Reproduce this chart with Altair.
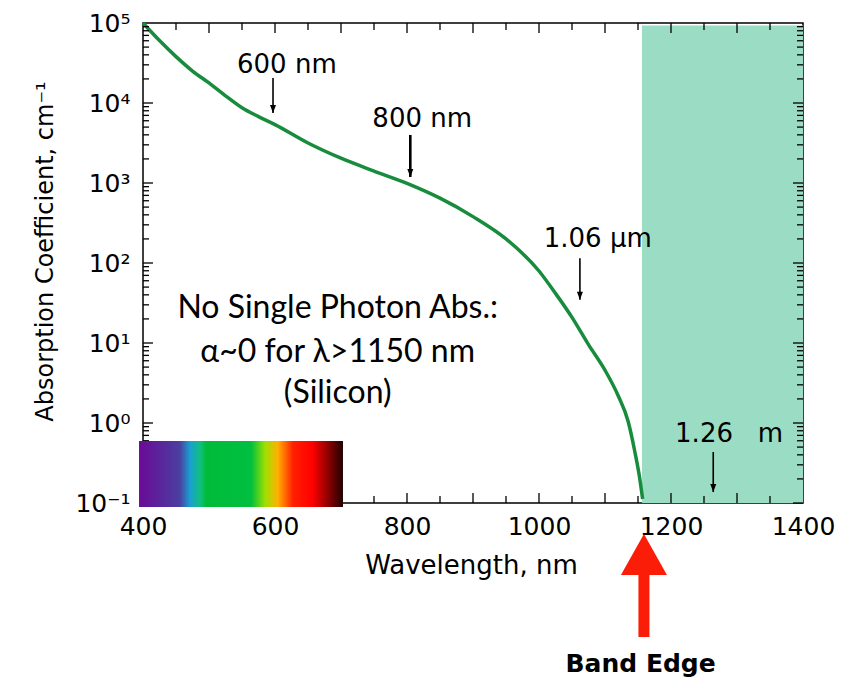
import math
import altair as alt
import pandas as pd

# ---------------- data ----------------
wavelength = [400, 425, 450, 475, 500, 525, 550, 575, 600, 650, 700, 750, 800,
              850, 900, 950, 1000, 1025, 1050, 1075, 1100, 1120, 1135, 1145,
              1152, 1157]
alpha = [1.0e5, 6.03e4, 3.80e4, 2.51e4, 1.78e4, 1.23e4, 8.71e3, 6.76e3, 5.37e3,
         3.16e3, 2.04e3, 1.41e3, 989, 646, 380, 200, 79.4, 41.7, 20.9, 9.55,
         4.57, 2.19, 1.05, 0.447, 0.219, 0.112]

x_label_values = [400, 600, 800, 1000, 1200, 1400]
y_label_values = [0.1, 1, 10, 100, 1000, 10000, 100000]
y_label_text = ["10⁻¹", "10⁰", "10¹", "10²", "10³", "10⁴", "10⁵"]

note_text = ["600 nm", "800 nm", "1.06 µm", "1.26\u00a0\u00a0\u00a0m"]
note_x = [618, 823, 1089, 1288]
note_y = [2.37e4, 5.01e3, 158, 0.579]
arrow_x = [597, 805, 1062, 1264]
arrow_from = [2.05e4, 3.98e3, 115, 0.434]
arrow_to = [7.5e3, 1.19e3, 34.7, 0.137]

body_lines = ["No Single Photon Abs.:", "α~0 for λ>1150 nm", "(Silicon)"]
body_x = [695, 695, 695]
body_y = [20.5, 5.79, 1.78]

band_label = ["Band Edge"]
band_arrow_x = [1159]
band_arrow_y = [0.00933]
band_text_x = [1154]
band_text_y = [7.72e-4]

no_abs_x = [1156]
no_abs_x2 = [1400]
no_abs_y = [0.1]
no_abs_y2 = [9.33e4]

spectrum_x = [394]
spectrum_x2 = [703]
spectrum_y = [0.0891]
spectrum_y2 = [0.596]
spectrum_offsets = [0.0, 0.2, 0.25, 0.3, 0.33, 0.55, 0.62, 0.68, 0.755, 0.85, 0.93, 1.0]
spectrum_colors = ["#6a0a96", "#4b3fa0", "#1a9fd0", "#10c080", "#00bb3a", "#00c040",
                   "#a0e000", "#ffb000", "#ff2000", "#ff0000", "#8a0000", "#200000"]

x_tick_values = list(range(450, 1400, 50))
y_tick_values = [m * 10.0 ** k for k in range(-1, 5) for m in range(1, 10)]

# ---------------- chart ----------------
W, H = 660, 480
xs = alt.Scale(domain=[400, 1400], nice=False, zero=False)
ys = alt.Scale(type="log", domain=[0.1, 1e5], nice=False)
FONT = "DejaVu Sans"

label_expr = "[" + ",".join(f"'{t}'" for t in y_label_text) + "][round(log(datum.value)/LN10)+1]"

xaxis = alt.Axis(values=x_label_values, format="d", labelFont=FONT, labelFontSize=25,
                 labelColor="black", labelPadding=11, ticks=False, tickSize=0,
                 domain=False, grid=False, labelFlush=False, labelOverlap=False,
                 title="Wavelength, nm", titleFont=FONT, titleFontSize=26,
                 titleFontWeight="normal", titleColor="black", titleX=328, titleY=70,
                 titleBaseline="alphabetic", titleAlign="center")
yaxis = alt.Axis(values=y_label_values, labelExpr=label_expr, labelFont=FONT,
                 labelFontSize=25, labelColor="black", labelPadding=13, ticks=False,
                 tickSize=0, domain=False, grid=False, labelFlush=False,
                 labelOverlap=False, labelBaseline="middle",
                 title="Absorption Coefficient, cm⁻¹", titleFont=FONT, titleFontSize=24,
                 titleFontWeight="normal", titleColor="black", titleX=-91, titleY=228,
                 titleAngle=-90, titleBaseline="alphabetic", titleAlign="center")


def X(field):
    return alt.X(field, type="quantitative", scale=xs, axis=xaxis)


def Y(field):
    return alt.Y(field, type="quantitative", scale=ys, axis=yaxis)


curve_df = pd.DataFrame({"wavelength": wavelength, "alpha": alpha})

teal = alt.Chart(pd.DataFrame({"x": no_abs_x, "x2": no_abs_x2, "y": no_abs_y, "y2": no_abs_y2})).mark_rect(
    color="#9bdcc5").encode(x=X("x"), x2="x2:Q", y=Y("y"), y2="y2:Q")

curve = alt.Chart(curve_df).mark_line(color="#178c3c", strokeWidth=3.5, interpolate="monotone").encode(
    x=X("wavelength"), y=Y("alpha"))


def xtick_layer(values, top, length):
    df = pd.DataFrame({"x": values})
    y0 = 0 if top else H
    y1 = length if top else H - length
    return alt.Chart(df).mark_rule(color="black", strokeWidth=1.3).encode(
        x=X("x"), y=alt.value(y0), y2=alt.value(y1))


def ytick_layer(values, right, length):
    df = pd.DataFrame({"y": values})
    x0 = W if right else 0
    x1 = W - length if right else length
    return alt.Chart(df).mark_rule(color="black", strokeWidth=1.3).encode(
        y=Y("y"), x=alt.value(x0), x2=alt.value(x1))


x_major = [v for v in x_tick_values if v % 100 == 0]
x_minor = [v for v in x_tick_values if v % 100 != 0]
y_major = [v for v in y_tick_values if abs(v / 10 ** round(math.log10(v)) - 1) < 1e-9 and v < 1e5]
y_minor = [v for v in y_tick_values if v not in y_major]

ticks = [xtick_layer(x_major, False, 10), xtick_layer(x_minor, False, 7),
         xtick_layer(x_major, True, 10), xtick_layer(x_minor, True, 7),
         ytick_layer(y_major, False, 10), ytick_layer(y_minor, False, 6),
         ytick_layer(y_major, True, 10), ytick_layer(y_minor, True, 6)]

spectrum = alt.Chart(pd.DataFrame({"x": spectrum_x, "x2": spectrum_x2, "y": spectrum_y, "y2": spectrum_y2})).mark_rect(
    color=alt.LinearGradient(gradient="linear",
                             stops=[alt.GradientStop(offset=o, color=c) for o, c in zip(spectrum_offsets, spectrum_colors)],
                             x1=0, x2=1, y1=0, y2=0)).encode(
    x=X("x"), x2="x2:Q", y=Y("y"), y2="y2:Q")

arrow_df = pd.DataFrame({"label": note_text, "x": arrow_x, "y": arrow_from, "y2": arrow_to, "tip": arrow_to})
arrow_lines = alt.Chart(arrow_df).mark_rule(color="black").encode(
    x=X("x"), y=Y("y"), y2="y2:Q",
    strokeWidth=alt.condition("datum.label == '800 nm'", alt.value(2.6), alt.value(1.6)))
arrow_heads = alt.Chart(arrow_df).mark_point(
    shape="M-0.375,-1 L0.375,-1 L0,0 Z", size=256, filled=True, color="black",
    opacity=1, strokeWidth=0).encode(x=X("x"), y=Y("tip"))

notes = alt.Chart(pd.DataFrame({"t": note_text, "x": note_x, "y": note_y})).mark_text(
    font=FONT, fontSize=26, baseline="alphabetic", align="center", color="black").encode(
    x=X("x"), y=Y("y"), text="t:N")

body = alt.Chart(pd.DataFrame({"t": body_lines, "x": body_x, "y": body_y})).mark_text(
    font="Lato", fontSize=32, baseline="alphabetic", align="center", color="black").encode(
    x=X("x"), y=Y("y"), text="t:N")

band_arrow = alt.Chart(pd.DataFrame({"x": band_arrow_x, "y": band_arrow_y})).mark_point(
    shape="M0,-1 L0.447,-0.204 L0.107,-0.204 L0.107,1 L-0.107,1 L-0.107,-0.204 L-0.447,-0.204 Z",
    size=10609, filled=True, color="#fb1d08", opacity=1, strokeWidth=0).encode(
    x=X("x"), y=Y("y"))

band_text = alt.Chart(pd.DataFrame({"t": band_label, "x": band_text_x, "y": band_text_y})).mark_text(
    font=FONT, fontSize=25, fontWeight="bold", baseline="alphabetic", align="center", color="black").encode(
    x=X("x"), y=Y("y"), text="t:N")

chart = alt.layer(teal, curve, *ticks, spectrum, arrow_lines, arrow_heads, notes, body,
                  band_arrow, band_text).properties(
    width=W, height=H,
    padding={"left": 135, "top": 15, "right": 40, "bottom": 176},
    autosize=alt.AutoSizeParams(type="none"),
    background="white",
).configure_view(stroke="black", strokeWidth=1.5)

chart.save("out.html", embed_options={"renderer": "svg", "actions": False})
